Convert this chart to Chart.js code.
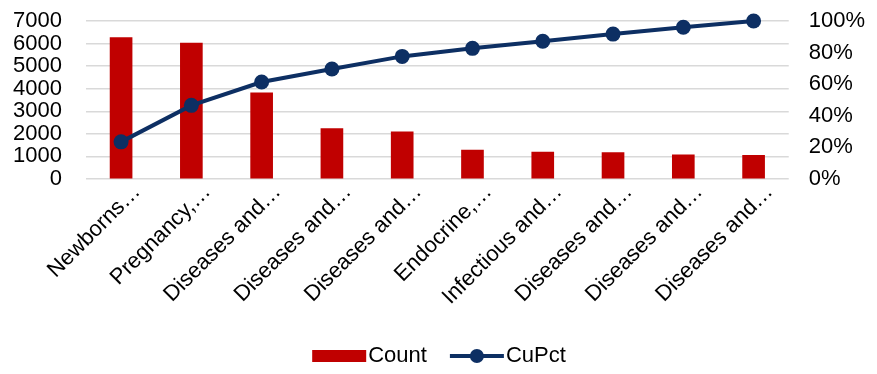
<!DOCTYPE html>
<html>
<head>
<meta charset="utf-8">
<script src="https://cdn.jsdelivr.net/npm/chart.js@4"></script>
<style>
  html, body { margin: 0; padding: 0; background: #fff; }
  #wrap { width: 877px; height: 374px; position: relative; }
</style>
</head>
<body>
<div id="wrap"><canvas id="paretoChart"></canvas></div>
<script>
const categories = ['Newborns…', 'Pregnancy,…', 'Diseases and…', 'Diseases and…', 'Diseases and…',
    'Endocrine,…', 'Infectious and…', 'Diseases and…', 'Diseases and…', 'Diseases and…'];
const counts = [6260, 6020, 3820, 2230, 2095, 1280, 1190, 1175, 1070, 1045];
const cuPct = [23.5, 46.6, 61.4, 69.6, 77.6, 82.7, 87.2, 91.7, 96, 100];
const countTicks = [0, 1000, 2000, 3000, 4000, 5000, 6000, 7000];
const pctTicks = [0, 20, 40, 60, 80, 100];

const navy = '#0d2f63';
const red = '#c00000';
const font = { family: '"Liberation Sans", Arial, sans-serif', size: 22 };

// legend symbols: red block for Count, line with a dot for CuPct
const legendSymbols = {
    id: 'legendSymbols',
    afterDraw(chart) {
        const legend = chart.legend;
        if (!legend || legend.legendHitBoxes.length < 2) return;
        const ctx = chart.ctx;
        ctx.save();
        legend.legendHitBoxes.forEach(function(box, i) {
            const y = box.top + box.height / 2;
            if (i === 0) {
                ctx.fillStyle = red;
                ctx.fillRect(box.left, y - 6, 54, 12);
            } else {
                ctx.strokeStyle = navy;
                ctx.lineWidth = 4;
                ctx.beginPath();
                ctx.moveTo(box.left, y);
                ctx.lineTo(box.left + 54, y);
                ctx.stroke();
                ctx.fillStyle = navy;
                ctx.beginPath();
                ctx.arc(box.left + 27, y, 7, 0, Math.PI * 2);
                ctx.fill();
            }
        });
        ctx.restore();
    }
};

function noPadding(axis) {
    axis.paddingLeft = 0;
    axis.paddingRight = 0;
    axis.paddingTop = 0;
    axis.paddingBottom = 0;
}

document.addEventListener('DOMContentLoaded', function() {
    const ctx = document.getElementById('paretoChart').getContext('2d');

    new Chart(ctx, {
        data: {
            labels: categories,
            datasets: [
                {
                    type: 'line',
                    label: 'CuPct',
                    data: cuPct,
                    yAxisID: 'y1',
                    borderColor: navy,
                    backgroundColor: navy,
                    borderWidth: 4,
                    pointRadius: 7.5,
                    pointHoverRadius: 7.5,
                    pointBackgroundColor: navy,
                    pointBorderWidth: 0,
                    tension: 0,
                    clip: false,
                    order: 1
                },
                {
                    type: 'bar',
                    label: 'Count',
                    data: counts,
                    yAxisID: 'y',
                    backgroundColor: red,
                    barThickness: 22,
                    order: 2
                }
            ]
        },
        options: {
            responsive: true,
            maintainAspectRatio: false,
            animation: false,
            layout: { padding: { left: 13, right: 12, top: 21, bottom: -3 } },
            plugins: {
                legend: {
                    position: 'bottom',
                    labels: {
                        font: font,
                        color: '#000',
                        boxWidth: 45,
                        boxHeight: 12,
                        padding: 23,
                        generateLabels(chart) {
                            const clear = 'rgba(0,0,0,0)';
                            return [
                                { text: 'Count', fillStyle: clear, strokeStyle: clear, lineWidth: 0, datasetIndex: 1, fontColor: '#000' },
                                { text: 'CuPct', fillStyle: clear, strokeStyle: clear, lineWidth: 0, datasetIndex: 0, fontColor: '#000' }
                            ];
                        }
                    }
                },
                tooltip: { enabled: false }
            },
            scales: {
                x: {
                    offset: true,
                    afterFit(axis) {
                        noPadding(axis);
                        axis.height = 143;
                    },
                    grid: { display: false, drawTicks: false },
                    border: { display: false },
                    ticks: {
                        font: font,
                        color: '#000',
                        maxRotation: 45,
                        minRotation: 45,
                        autoSkip: false,
                        padding: 0,
                        labelOffset: 16
                    }
                },
                y: {
                    position: 'left',
                    min: 0,
                    max: 7000,
                    afterFit(axis) {
                        noPadding(axis);
                        axis.width -= axis.options.ticks.padding;
                    },
                    afterBuildTicks(axis) { axis.ticks = countTicks.map(v => ({ value: v })); },
                    grid: { color: '#d9d9d9', lineWidth: 1.5, drawTicks: false },
                    border: { display: false },
                    ticks: { font: font, color: '#000', padding: 24, autoSkip: false, callback: v => String(v) }
                },
                y1: {
                    position: 'right',
                    min: 0,
                    max: 100,
                    afterFit(axis) {
                        noPadding(axis);
                        axis.width -= axis.options.ticks.padding;
                    },
                    afterBuildTicks(axis) { axis.ticks = pctTicks.map(v => ({ value: v })); },
                    grid: { display: false, drawTicks: false },
                    border: { display: false },
                    ticks: {
                        font: font,
                        color: '#000',
                        padding: 20,
                        autoSkip: false,
                        callback: v => v + '%'
                    }
                }
            }
        },
        plugins: [legendSymbols]
    });
});
</script>
</body>
</html>
